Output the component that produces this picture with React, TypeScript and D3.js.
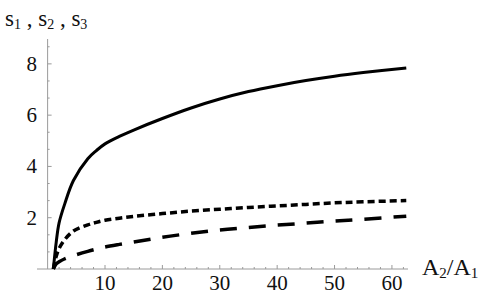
import * as d3 from 'd3';

// values
const ratio = [1, 1.5, 2, 3, 4.5, 7, 8.5, 10, 12.5, 15, 20, 25, 30, 35, 40, 45, 50, 55, 62.5];
const s1 = [0, 1.05, 1.8, 2.55, 3.45, 4.3, 4.62, 4.88, 5.17, 5.42, 5.87, 6.28, 6.63, 6.92, 7.15, 7.35, 7.52, 7.66, 7.84];
const s2 = [0, 0.5, 0.8, 1.15, 1.48, 1.72, 1.82, 1.9, 1.98, 2.05, 2.16, 2.26, 2.33, 2.4, 2.46, 2.52, 2.58, 2.62, 2.67];
const s3 = [0, 0.2, 0.28, 0.4, 0.52, 0.69, 0.78, 0.86, 0.96, 1.05, 1.24, 1.39, 1.52, 1.62, 1.71, 1.79, 1.87, 1.94, 2.06];
const xTicks = [10, 20, 30, 40, 50, 60];
const yTicks = [2, 4, 6, 8];

const W = 491;
const H = 303;
const font = 'Liberation Serif, Times New Roman, serif';
const axisColor = '#9a9a9a';

const series = [
  { values: s1, dash: null, width: 3 },
  { values: s2, dash: '7,4', width: 3.5 },
  { values: s3, dash: '17,12', width: 3.5 }
];

const App = () => {
  const x = d3.scaleLinear().domain([-1.85, 62.8]).range([37, 408]);
  const y = d3.scaleLinear().domain([0, 8.97]).range([269, 39]);

  const line = d3.line<number>()
    .x((_, i) => x(ratio[i]))
    .y(d => y(d))
    .curve(d3.curveCatmullRom.alpha(0.5));

  const xMinor = d3.range(2, 63, 2).filter(v => v % 10 !== 0);
  const yMinor = d3.range(0, 9, 2 / 3).filter(v => Math.abs(v / 2 - Math.round(v / 2)) > 0.01);

  return (
    <div style={{ position: 'absolute', left: 0, top: 0 }}>
      <svg width={W} height={H} style={{ display: 'block', background: 'white' }}>
        {/* axes */}
        <line x1={x(-1.85)} x2={x(62.8)} y1={y(0)} y2={y(0)} stroke={axisColor} strokeWidth={1} />
        <line x1={x(0)} x2={x(0)} y1={y(0)} y2={y(8.97)} stroke={axisColor} strokeWidth={1} />

        {xTicks.map(t => (
          <g key={'xt' + t}>
            <line x1={x(t)} x2={x(t)} y1={y(0)} y2={y(0) - 4} stroke={axisColor} />
            <text x={x(t)} y={290} textAnchor="middle" fontFamily={font} fontSize={21} fill="#111">{t}</text>
          </g>
        ))}
        {xMinor.map(t => (
          <line key={'xm' + t} x1={x(t)} x2={x(t)} y1={y(0)} y2={y(0) - 2} stroke={axisColor} />
        ))}

        {yTicks.map(t => (
          <g key={'yt' + t}>
            <line x1={x(0)} x2={x(0) + 4} y1={y(t)} y2={y(t)} stroke={axisColor} />
            <text x={37} y={y(t) + 7} textAnchor="end" fontFamily={font} fontSize={21} fill="#111">{t}</text>
          </g>
        ))}
        {yMinor.map(t => (
          <line key={'ym' + t} x1={x(0)} x2={x(0) + 2} y1={y(t)} y2={y(t)} stroke={axisColor} />
        ))}

        {/* curves */}
        {series.map((s, i) => (
          <path
            key={i}
            d={line(s.values) || ''}
            fill="none"
            stroke="black"
            strokeWidth={s.width}
            strokeDasharray={s.dash || undefined}
          />
        ))}

        {/* axis labels */}
        <text x={5} y={26} fontFamily={font} fontSize={23} fill="#111">
          s<tspan fontSize={14} dy={3}>1</tspan>
          <tspan dy={-3}> , s</tspan><tspan fontSize={14} dy={3}>2</tspan>
          <tspan dy={-3}> , s</tspan><tspan fontSize={14} dy={3}>3</tspan>
        </text>
        <text x={422} y={275} fontFamily={font} fontSize={24} fill="#111">
          A<tspan fontSize={15} dy={3}>2</tspan>
          <tspan dy={-3}>/A</tspan><tspan fontSize={15} dy={3}>1</tspan>
        </text>
      </svg>
    </div>
  );
};

export default App;
